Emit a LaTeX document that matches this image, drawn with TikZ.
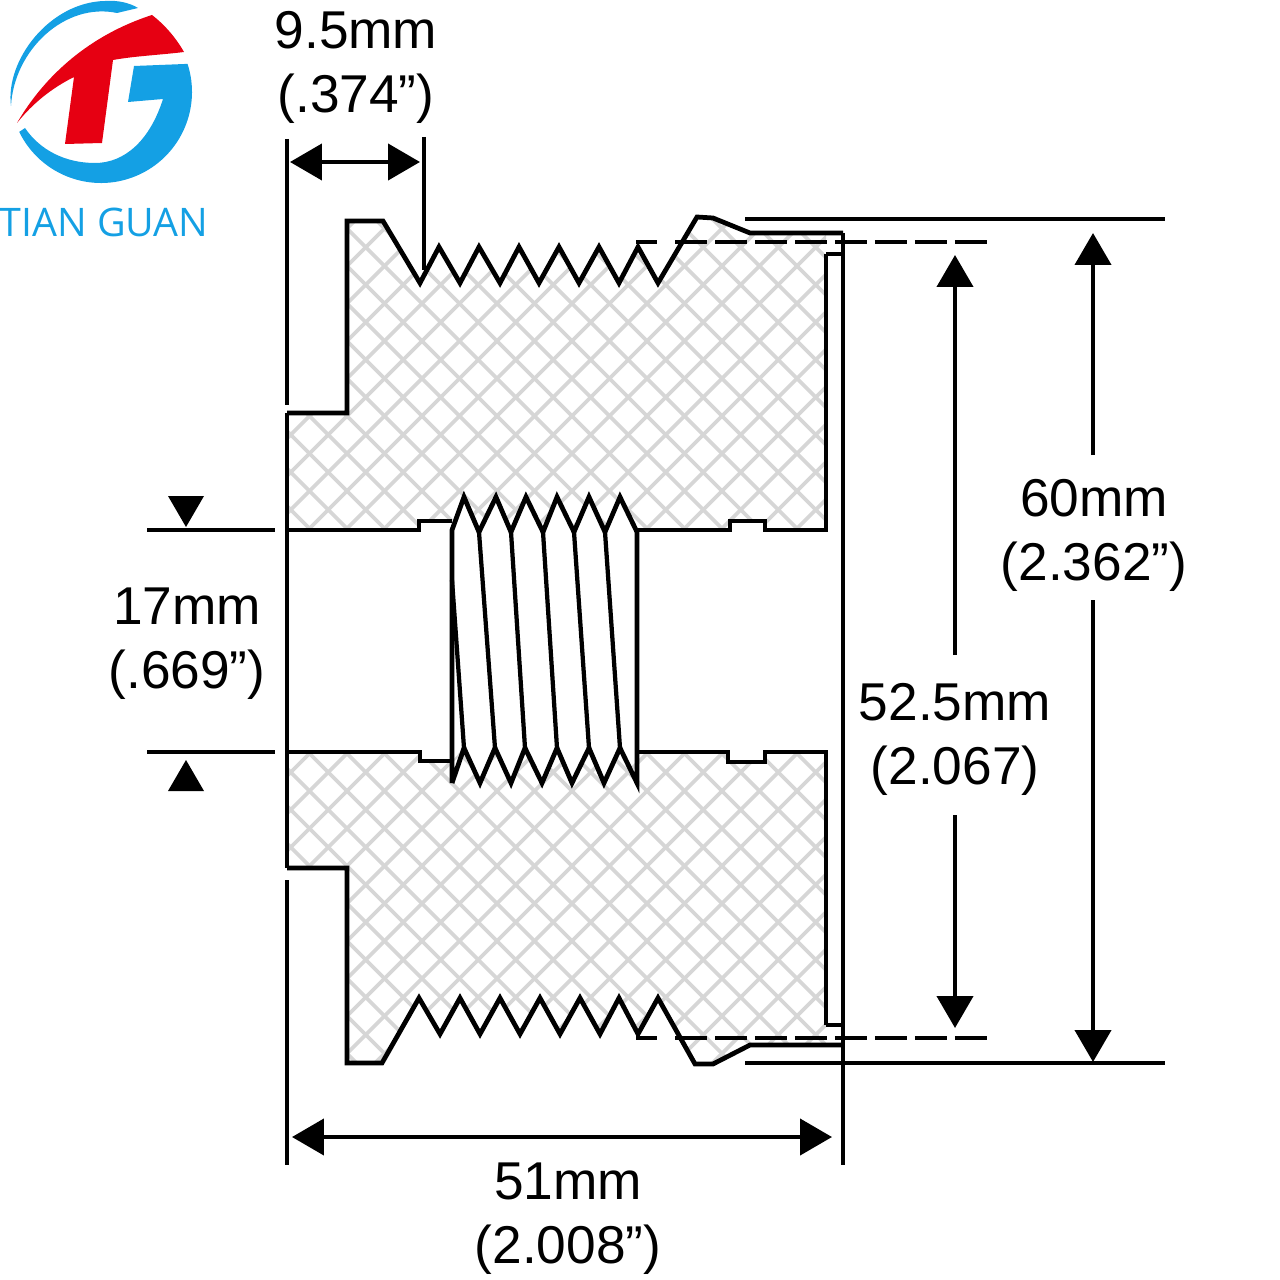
\documentclass[tikz,border=0pt]{standalone}
\usepackage{fontspec}
\setmainfont{Liberation Sans}
\newfontfamily\logofont{Open Sans}
\usetikzlibrary{arrows.meta}
\definecolor{logoblue}{HTML}{14A0E4}
\definecolor{logored}{HTML}{E60012}
\definecolor{hatchgray}{HTML}{D6D6D6}

\begin{document}
\begin{tikzpicture}[
    x=0.02cm, y=-0.02cm,
    every node/.style={font=\fontsize{30.3}{36.5}\selectfont, align=center, inner sep=0pt},
    outline/.style={draw=black, line width=0.095cm, line join=miter},
    hatchline/.style={draw=hatchgray, line width=0.075cm},
    dimline/.style={draw=black, line width=0.085cm},
    dimtip/.style={-{Triangle[length=0.64cm, width=0.72cm]}},
    dimtips/.style={{Triangle[length=0.64cm, width=0.72cm]}-{Triangle[length=0.64cm, width=0.72cm]}},
    hiddenline/.style={dimline, dash pattern=on 0.64cm off 0.16cm},
]
\useasboundingbox (0,0) rectangle (1280,1280);

% === Logo ===
\fill[logoblue] (11,106) .. controls (5,60) and (50,2) .. (105,1)
    .. controls (118,0) and (130,3) .. (138,8) -- (117,13)
    .. controls (65,2) and (14,50) .. (11,106) -- cycle;
\fill[logoblue] (101,92) ++(154:91) arc[start angle=154, end angle=-18, radius=91]
    -- (134,66) -- (128,102) -- (163,99)
    .. controls (150,140) and (125,163) .. (95,163)
    .. controls (65,163) and (40,150) .. (25,128) -- cycle;
\fill[logored] (17,123) .. controls (45,75) and (90,35) .. (152,15)
    .. controls (165,25) and (176,38) .. (184,52)
    .. controls (160,55) and (135,56) .. (113,60)
    -- (102,143) -- (65,144) -- (74,77)
    .. controls (52,88) and (33,103) .. (17,123) -- cycle;
\node[text=logoblue, font=\logofont\fontsize{22.4}{28}\selectfont] (logotext) at (104,222) {TIAN GUAN};

% === Hatching: Upper Half ===
\begin{scope}
    \clip (347,221) -- (383,221) -- (420,283) -- (439,247) -- (460,283) -- (479,247)
        -- (500,283) -- (519,247) -- (539,283) -- (559,247) -- (579,283) -- (599,247)
        -- (619,283) -- (638,247) -- (658,283) -- (697,217) -- (713,218) -- (750,233)
        -- (826,233) -- (826,530) -- (765,530) -- (765,521) -- (730,521) -- (730,530)
        -- (637,530) -- (620,497) -- (605,530) -- (589,497) -- (574,530) -- (557,497)
        -- (543,530) -- (526,497) -- (511,530) -- (496,497) -- (479,530) -- (464,497)
        -- (452,521) -- (419,521) -- (419,530) -- (287,530) -- (287,413) -- (347,413) -- cycle;
    \foreach \k in {-16,...,36} {
        \draw[hatchline] ({763+\k*37.5-200},200) -- ({763+\k*37.5-1080},1080);
        \draw[hatchline] ({-144+\k*37.5+200},200) -- ({-144+\k*37.5+1080},1080);
    }
\end{scope}

% === Hatching: Lower Half ===
\begin{scope}
    \clip (347,1063) -- (382,1063) -- (419,998) -- (440,1034) -- (460,998) -- (480,1034)
        -- (500,998) -- (520,1034) -- (540,998) -- (560,1034) -- (580,998) -- (600,1034)
        -- (619,998) -- (638,1034) -- (658,998) -- (695,1064) -- (713,1064) -- (750,1045)
        -- (826,1045) -- (826,752) -- (765,752) -- (765,762) -- (728,762) -- (728,752)
        -- (637,752) -- (620,748) -- (604,783) -- (589,748) -- (572,783) -- (557,748)
        -- (542,783) -- (525,748) -- (511,783) -- (495,748) -- (480,783) -- (464,748)
        -- (452,761) -- (420,761) -- (420,752) -- (287,752) -- (287,868) -- (347,868) -- cycle;
    \foreach \k in {-16,...,36} {
        \draw[hatchline] ({763+\k*37.5-700},700) -- ({763+\k*37.5-1080},1080);
        \draw[hatchline] ({-144+\k*37.5+700},700) -- ({-144+\k*37.5+1080},1080);
    }
\end{scope}

% === Pulley Outline ===
\draw[outline] (287,139) -- (287,405);
\draw[outline] (287,880) -- (287,1165);
\draw[outline] (843,233) -- (843,1165);
\draw[dimline] (424,137) -- (424,270);
% upper half
\draw[outline] (826,254) -- (843,254);
\draw[outline] (287,413) -- (347,413) -- (347,221) -- (383,221) -- (420,283) -- (439,247)
    -- (460,283) -- (479,247) -- (500,283) -- (519,247) -- (539,283) -- (559,247)
    -- (579,283) -- (599,247) -- (619,283) -- (638,247) -- (658,283) -- (697,217)
    -- (713,218) -- (750,233) -- (843,233);
\draw[outline] (826,254) -- (826,530) -- (765,530) -- (765,521) -- (730,521) -- (730,530) -- (637,530);
\draw[outline] (287,530) -- (419,530) -- (419,521) -- (452,521);
% lower half
\draw[outline] (826,1025) -- (843,1025);
\draw[outline] (287,868) -- (347,868) -- (347,1063) -- (382,1063) -- (419,998) -- (440,1034)
    -- (460,998) -- (480,1034) -- (500,998) -- (520,1034) -- (540,998) -- (560,1034)
    -- (580,998) -- (600,1034) -- (619,998) -- (638,1034) -- (658,998) -- (695,1064)
    -- (713,1064) -- (750,1045) -- (843,1045);
\draw[outline] (826,1025) -- (826,752) -- (765,752) -- (765,762) -- (728,762) -- (728,752) -- (637,752);
\draw[outline] (287,752) -- (420,752) -- (420,761) -- (452,761);
\draw[outline] (287,413) -- (287,868);

% === Bore Thread ===
\draw[outline] (452,783) -- (452,530) -- (464,497) -- (479,532) -- (496,497) -- (511,532)
    -- (526,497) -- (543,532) -- (557,497) -- (574,532) -- (589,497) -- (605,532)
    -- (620,497) -- (637,532) -- (637,783) -- (620,748) -- (604,783) -- (589,748)
    -- (572,783) -- (557,748) -- (542,783) -- (525,748) -- (511,783) -- (495,748)
    -- (480,783) -- (464,748) -- (452,783);
\draw[dimline] (452,580) -- (464,748);
\draw[dimline] (479,532) -- (495,748);
\draw[dimline] (511,532) -- (525,748);
\draw[dimline] (543,532) -- (557,748);
\draw[dimline] (574,532) -- (589,748);
\draw[dimline] (605,532) -- (620,748);

% === Extension Lines ===
\draw[dimline] (745,219) -- (1165,219);
\draw[dimline] (745,1063) -- (1165,1063);
\draw[dimline] (636,242) -- (657,242);
\draw[hiddenline] (675,242) -- (988,242);
\draw[dimline] (636,1038) -- (657,1038);
\draw[hiddenline] (675,1038) -- (988,1038);
\draw[dimline] (147,530) -- (275,530);
\draw[dimline] (147,752) -- (275,752);

% === Dimensions ===
\node (dimwidth) at (356,67) {9.5mm\\(.374”)};
\coordinate (widthleft) at (290,162);
\coordinate (widthright) at (420,162);
\draw[dimline, dimtips] (widthleft) -- (widthright);

\node (dimbore) at (187,644) {17mm\\(.669”)};
\fill (168,496) -- (204,496) -- (186,527) -- cycle;
\fill (186,760) -- (204,791) -- (168,791) -- cycle;

\node (dimoutertext) at (1094,535) {60mm\\(2.362”)};
\coordinate (outerup) at (1093,455);
\coordinate (outerdown) at (1093,600);
\coordinate (outertop) at (1093,233);
\coordinate (outerbot) at (1093,1062);
\draw[dimline, dimtip] (outerup) -- (outertop);
\draw[dimline, dimtip] (outerdown) -- (outerbot);

\node (diminnertext) at (955,739) {52.5mm\\(2.067)};
\coordinate (innerup) at (955,655);
\coordinate (innerdown) at (955,815);
\coordinate (innertop) at (955,255);
\coordinate (innerbot) at (955,1028);
\draw[dimline, dimtip] (innerup) -- (innertop);
\draw[dimline, dimtip] (innerdown) -- (innerbot);

\coordinate (lengthleft) at (292,1137);
\coordinate (lengthright) at (832,1137);
\draw[dimline, dimtips] (lengthleft) -- (lengthright);
\node (dimlength) at (568,1219) {51mm\\(2.008”)};

\end{tikzpicture}
\end{document}
